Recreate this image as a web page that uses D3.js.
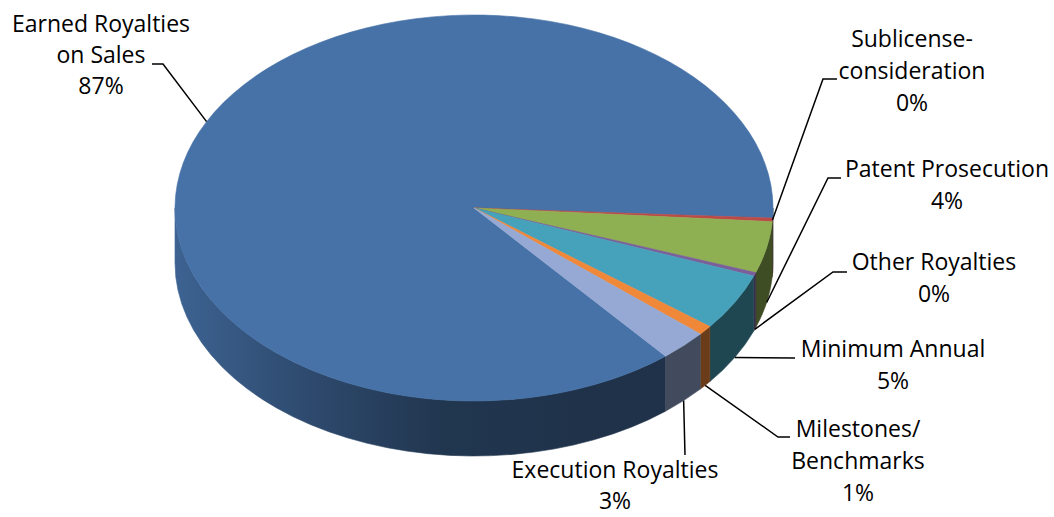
<!DOCTYPE html>
<html>
<head>
<meta charset="utf-8">
<script src="https://cdn.jsdelivr.net/npm/d3@7"></script>
<style>
  html, body { margin: 0; padding: 0; background: #fff; }
  svg { display: block; }
  text { font-family: "Open Sans", "Noto Sans", sans-serif; fill: #000; }
</style>
</head>
<body>
<svg id="chart" width="1054" height="517"></svg>
<script>
// Royalty income by category (parts per thousand)
const categories = [
  "Earned Royalties\non Sales",
  "Sublicense-\nconsideration",
  "Patent Prosecution",
  "Other Royalties",
  "Minimum Annual",
  "Milestones/\nBenchmarks",
  "Execution Royalties"
];
const values = [869, 3, 43, 3, 48, 8, 26];
const colors = ["#4672a8", "#bb4b48", "#8fb052", "#7a5f9b", "#46a1ba", "#f0883a", "#95a9d4"];

// Geometry of the tilted pie
const cx = 474, cy = 208, rx = 299, ry = 193, depth = 55;
const firstSliceAngle = -219.84 * Math.PI / 180;

// Label placement: text centre, first baseline, leader elbow/end, anchor on top rim or bottom rim
const labelLayout = [
  { x: 101, y: 32, lh: 31, anchor: "top",    path: [[163, 64], [152, 64]] },
  { x: 912, y: 47, lh: 32, anchor: "top",    path: [[823, 79], [837, 79]] },
  { x: 947, y: 177, lh: 32, anchor: "bottom", path: [[828, 178], [841, 178]] },
  { x: 934, y: 270, lh: 32, anchor: "bottom", path: [[833, 272], [847, 272]] },
  { x: 893, y: 357, lh: 32, anchor: "bottom", path: [[795, 358]] },
  { x: 858, y: 437, lh: 32, anchor: "bottom", path: [[778, 437], [790, 437]] },
  { x: 615, y: 478, lh: 31, anchor: "bottom", path: [[685, 455]] }
];

const svg = d3.select("#chart");
const defs = svg.append("defs");

const total = d3.sum(values);
const pct = d3.format(".0%");

const pie = d3.pie().sort(null)
  .startAngle(firstSliceAngle)
  .endAngle(firstSliceAngle + 2 * Math.PI);
const arcs = pie(values).map((d, i) => ({
  ...d, i,
  // screen angle measured clockwise from 3 o'clock
  t1: d.startAngle - Math.PI / 2,
  t2: d.endAngle - Math.PI / 2
}));

const P = (t, z = 0) => [cx + rx * Math.cos(t), cy + ry * Math.sin(t) + z];
const fmt = p => p[0].toFixed(2) + "," + p[1].toFixed(2);

// side wall gradients, lighter toward the left rim, darker at the front
const sideShade = [[0, 0.4], [0.22, 1.2], [0.45, 2.1], [0.7, 2.3], [1, 2.3]];
arcs.forEach(d => {
  const g = defs.append("linearGradient")
    .attr("id", "side" + d.i)
    .attr("gradientUnits", "userSpaceOnUse")
    .attr("x1", cx - rx).attr("y1", 0)
    .attr("x2", cx + rx).attr("y2", 0);
  sideShade.forEach(([o, k]) => {
    g.append("stop").attr("offset", o).attr("stop-color", d3.color(colors[d.i]).darker(k));
  });
});

// visible part of each slice's outer wall: the front half, t in [0, PI] (mod 2PI)
function frontSpans(t1, t2) {
  const spans = [];
  for (let k = -2; k <= 2; k++) {
    const lo = Math.max(t1, k * 2 * Math.PI);
    const hi = Math.min(t2, k * 2 * Math.PI + Math.PI);
    if (hi > lo + 1e-6) spans.push([lo, hi]);
  }
  return spans;
}

const sideG = svg.append("g");
arcs.forEach(d => {
  frontSpans(d.t1, d.t2).forEach(([a, b]) => {
    const large = (b - a) > Math.PI ? 1 : 0;
    const path = "M" + fmt(P(a)) +
      "A" + rx + "," + ry + " 0 " + large + " 1 " + fmt(P(b)) +
      "L" + fmt(P(b, depth)) +
      "A" + rx + "," + ry + " 0 " + large + " 0 " + fmt(P(a, depth)) + "Z";
    sideG.append("path")
      .attr("d", path)
      .attr("fill", "url(#side" + d.i + ")")
      .attr("stroke", "url(#side" + d.i + ")")
      .attr("stroke-width", 0.6);
  });
});

// top faces
const topG = svg.append("g");
arcs.forEach(d => {
  const large = (d.t2 - d.t1) > Math.PI ? 1 : 0;
  const path = "M" + cx + "," + cy +
    "L" + fmt(P(d.t1)) +
    "A" + rx + "," + ry + " 0 " + large + " 1 " + fmt(P(d.t2)) + "Z";
  topG.append("path")
    .attr("d", path)
    .attr("fill", colors[d.i])
    .attr("stroke", colors[d.i])
    .attr("stroke-width", 0.6);
});

// leader lines and labels
const labG = svg.append("g");
arcs.forEach(d => {
  const L = labelLayout[d.i];
  const tm = (d.t1 + d.t2) / 2;
  const start = P(tm, L.anchor === "bottom" ? depth : 0);
  const pts = [start, ...L.path];
  labG.append("path")
    .attr("d", d3.line()(pts))
    .attr("fill", "none")
    .attr("stroke", "#000")
    .attr("stroke-width", 1.5);

  const lines = categories[d.i].split("\n").concat([pct(d.data / total)]);
  const txt = labG.append("text")
    .attr("text-anchor", "middle")
    .attr("font-size", 23);
  lines.forEach((s, j) => {
    txt.append("tspan")
      .attr("x", L.x)
      .attr("y", L.y + j * L.lh)
      .text(s);
  });
});
</script>
</body>
</html>
